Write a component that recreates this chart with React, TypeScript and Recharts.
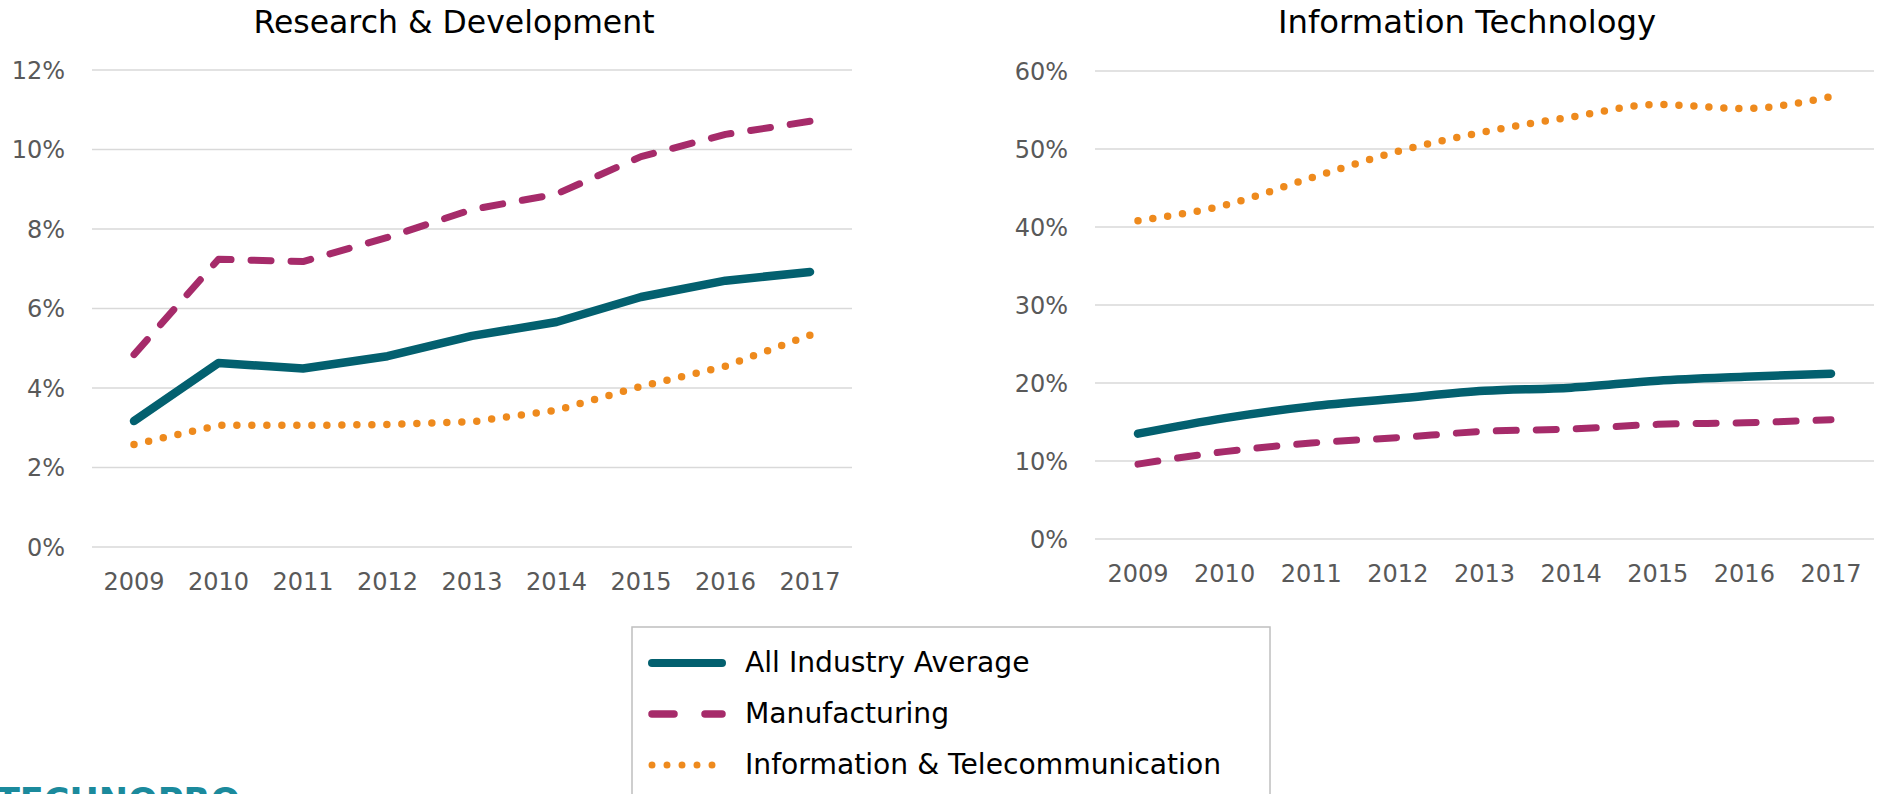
import React from 'react';
import { LineChart, Line, XAxis, YAxis, CartesianGrid } from 'recharts';

const years = ['2009', '2010', '2011', '2012', '2013', '2014', '2015', '2016', '2017'];

// Research & Development, % share
const rdAll = [3.17, 4.63, 4.49, 4.8, 5.31, 5.66, 6.29, 6.7, 6.92];
const rdMfg = [4.84, 7.24, 7.18, 7.79, 8.49, 8.88, 9.82, 10.38, 10.71];
const rdIct = [2.58, 3.06, 3.06, 3.08, 3.15, 3.44, 4.04, 4.55, 5.33];

// Information Technology, % share
const itAll = [13.5, 15.5, 17.0, 18.0, 19.0, 19.4, 20.3, 20.8, 21.2];
const itMfg = [9.6, 11.2, 12.3, 13.0, 13.8, 14.1, 14.7, 14.9, 15.3];
const itIct = [40.8, 42.8, 46.3, 49.7, 52.2, 54.1, 55.7, 55.2, 56.7];

const rdTicks = [0, 2, 4, 6, 8, 10, 12];
const itTicks = [0, 10, 20, 30, 40, 50, 60];

const seriesNames = ['All Industry Average', 'Manufacturing', 'Information & Telecommunication'];

const TEAL = '#03606f';
const PLUM = '#a62b6a';
const ORANGE = '#ee8a1d';
const FONT = '"DejaVu Sans", Verdana, sans-serif';

const rdData = years.map((y, i) => ({ year: y, all: rdAll[i], mfg: rdMfg[i], ict: rdIct[i] }));
const itData = years.map((y, i) => ({ year: y, all: itAll[i], mfg: itMfg[i], ict: itIct[i] }));

const tickStyle = { fill: '#595959', fontSize: 24, fontFamily: FONT };

interface PanelProps {
  data: Record<string, unknown>[];
  ticks: number[];
  width: number;
  yAxisWidth: number;
  right: number;
  top: number;
  bottom: number;
  padX: number;
  curve: 'linear' | 'monotone';
}

function Panel({ data, ticks, width, yAxisWidth, right, top, bottom, padX, curve }: PanelProps) {
  return (
    <LineChart width={width} height={620} data={data} margin={{ top, right, bottom, left: 0 }}>
      <CartesianGrid vertical={false} stroke="#d9d9d9" strokeWidth={1.5} />
      <XAxis
        dataKey="year"
        axisLine={false}
        tickLine={false}
        tickSize={0}
        tickMargin={26}
        height={60}
        padding={{ left: padX, right: padX }}
        tick={tickStyle}
        interval={0}
      />
      <YAxis
        domain={[ticks[0], ticks[ticks.length - 1]]}
        ticks={ticks}
        axisLine={false}
        tickLine={false}
        tickSize={0}
        tickMargin={27}
        width={yAxisWidth}
        tick={tickStyle}
        tickFormatter={(v: number) => `${v}%`}
      />
      <Line
        type={curve}
        dataKey="all"
        stroke={TEAL}
        strokeWidth={8.5}
        strokeLinecap="round"
        strokeLinejoin="round"
        dot={false}
        activeDot={false}
        isAnimationActive={false}
      />
      <Line
        type={curve}
        dataKey="mfg"
        stroke={PLUM}
        strokeWidth={7}
        strokeDasharray="20 20"
        strokeLinecap="round"
        strokeLinejoin="round"
        dot={false}
        activeDot={false}
        isAnimationActive={false}
      />
      <Line
        type={curve}
        dataKey="ict"
        stroke={ORANGE}
        strokeWidth={7.5}
        strokeDasharray="0 15"
        strokeLinecap="round"
        strokeLinejoin="round"
        dot={false}
        activeDot={false}
        isAnimationActive={false}
      />
    </LineChart>
  );
}

export default function App() {
  const rows = [
    { name: seriesNames[0], color: TEAL, width: 8, dash: undefined },
    { name: seriesNames[1], color: PLUM, width: 7.5, dash: '22 31' },
    { name: seriesNames[2], color: ORANGE, width: 7, dash: '0 15' },
  ];
  return (
    <div
      style={{
        position: 'absolute',
        left: 0,
        top: 0,
        width: 1881,
        height: 794,
        overflow: 'hidden',
        background: '#fff',
        fontFamily: FONT,
      }}
    >
      <div style={{ position: 'absolute', left: 0, top: 0 }}>
        <Panel data={rdData} ticks={rdTicks} width={900} yAxisWidth={92} right={48} top={70} bottom={13} padX={42} curve="linear" />
      </div>
      <div style={{ position: 'absolute', left: 960, top: 0 }}>
        <Panel data={itData} ticks={itTicks} width={921} yAxisWidth={135} right={7} top={71} bottom={21} padX={43} curve="monotone" />
      </div>
      <svg
        width={1881}
        height={794}
        style={{ position: 'absolute', left: 0, top: 0, pointerEvents: 'none' }}
      >
        <text x={454} y={33} textAnchor="middle" fontSize={31.5} fill="#000" fontFamily={FONT}>
          Research &amp; Development
        </text>
        <text x={1467} y={33} textAnchor="middle" fontSize={32.3} fill="#000" fontFamily={FONT}>
          Information Technology
        </text>
        <rect x={632} y={627} width={638} height={220} fill="#fff" stroke="#bfbfbf" strokeWidth={1.5} />
        {rows.map((r, i) => {
          const cy = 663 + i * 51;
          return (
            <g key={r.name}>
              <line
                x1={652}
                x2={722}
                y1={cy}
                y2={cy}
                stroke={r.color}
                strokeWidth={r.width}
                strokeLinecap="round"
                strokeDasharray={r.dash}
              />
              <text x={745} y={cy + 9} fontSize={28.2} fill="#000" fontFamily={FONT}>
                {r.name}
              </text>
            </g>
          );
        })}
        <text x={-4} y={813} fontSize={35} fontWeight="bold" fill="#1b8a9c" fontFamily={FONT}>
          TECHNOPRO
        </text>
      </svg>
    </div>
  );
}
